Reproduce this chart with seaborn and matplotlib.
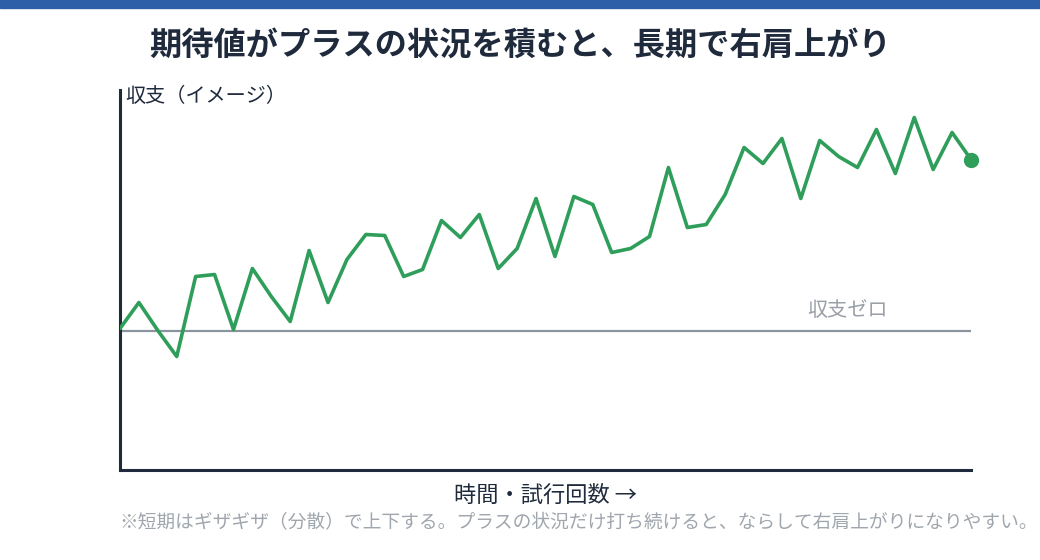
import matplotlib
matplotlib.use("Agg")
import matplotlib.pyplot as plt
import seaborn as sns
import pandas as pd
from matplotlib.patches import Rectangle

title = "期待値がプラスの状況を積むと、長期で右肩上がり"
y_label = "収支（イメージ）"
x_label = "時間・試行回数 →"
zero_label = "収支ゼロ"
note = "※短期はギザギザ（分散）で上下する。プラスの状況だけ打ち続けると、ならして右肩上がりになりやすい。"

trials = list(range(46))
balance = [0.2, 2.8, 0.0, -2.6, 5.4, 5.6, 0.1, 6.2, 3.4, 0.9,
           8.0, 2.8, 7.1, 9.6, 9.5, 5.4, 6.1, 11.0, 9.3, 11.6,
           6.2, 8.2, 13.2, 7.4, 13.4, 12.6, 7.8, 8.2, 9.4, 16.3,
           10.3, 10.6, 13.6, 18.3, 16.7, 19.2, 13.2, 19.0, 17.4, 16.3,
           20.1, 15.7, 21.3, 16.1, 19.8, 17.1]

df = pd.DataFrame({"trial": trials, "balance": balance})

sns.set_theme(style="white")
plt.rcParams['font.family'] = ['Noto Sans CJK JP', 'DejaVu Sans']

fig = plt.figure(figsize=(10.4, 5.6), dpi=100)
ax = fig.add_axes([120/1040, 1 - 470/560, (971-120)/1040, 380/560])

green = "#2e9e5a"
dark = "#1f2a3c"

ax.axhline(0, color="#8b949c", lw=1.6, zorder=1)
sns.lineplot(data=df, x="trial", y="balance", ax=ax, color=green, lw=2.6, zorder=3)
ax.plot([trials[-1]], [balance[-1]], 'o', color=green, markersize=10, zorder=4, clip_on=False)

ax.set_xlim(0, 45)
ax.set_ylim(-13.95, 24.05)
ax.set_xticks([])
ax.set_yticks([])
ax.set_xlabel("")
ax.set_ylabel("")
for s in ["top", "right"]:
    ax.spines[s].set_visible(False)
for s in ["left", "bottom"]:
    ax.spines[s].set_color(dark)
    ax.spines[s].set_linewidth(2.2)

fig.text(888/1040, 1 - 310/560, zero_label, ha="right", va="center",
         fontsize=14.5, color="#9aa0a8")

fig.text(520/1040, 1 - 45/560, title, ha="center", va="center", fontsize=23.2,
         fontweight="bold", color=dark)
fig.text(125/1040, 1 - 97/560, y_label, ha="left", va="center", fontsize=14.5, color=dark)
fig.text(545/1040, 1 - 495/560, x_label, ha="center", va="center", fontsize=16, color=dark)
fig.text(119/1040, 1 - 523/560, note, ha="left", va="center", fontsize=13.5, color="#a0a6ad")

fig.patches.append(Rectangle((0, 1 - 8/560), 1, 8/560, transform=fig.transFigure,
                             color="#2c5fa8", zorder=10))

fig.savefig("out.png", dpi=100)
